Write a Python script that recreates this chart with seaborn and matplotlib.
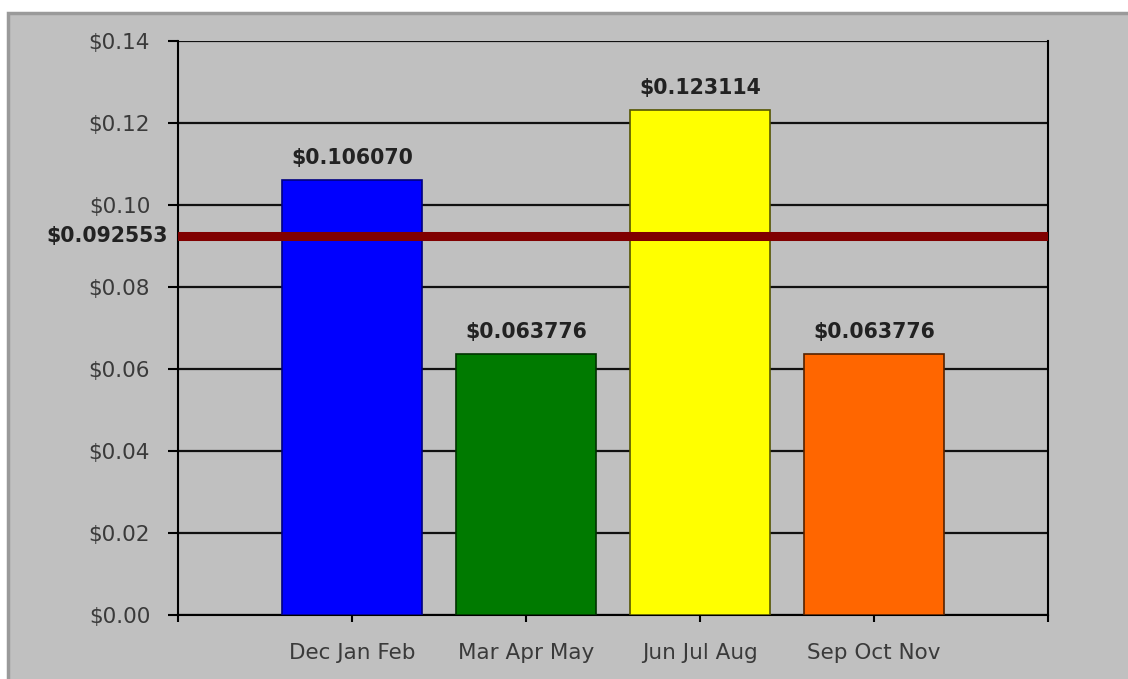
import matplotlib
matplotlib.use("Agg")
import matplotlib.pyplot as plt
import seaborn as sns
import pandas as pd
from matplotlib.patches import Rectangle

categories = ["Dec Jan Feb", "Mar Apr May", "Jun Jul Aug", "Sep Oct Nov"]
values = [0.106070, 0.063776, 0.123114, 0.063776]
colors = ["#0000ff", "#007a00", "#ffff00", "#ff6600"]
edge_colors = ["#000080", "#003300", "#555500", "#552200"]
average = 0.092553
y_ticks = [0.00, 0.02, 0.04, 0.06, 0.08, 0.10, 0.12, 0.14]

sns.set_theme(style="white")
plt.rcParams["font.family"] = ["DejaVu Sans"]

W, H = 1128, 679
fig = plt.figure(figsize=(W / 100, H / 100), dpi=100)
fig.patch.set_facecolor("white")
frame = Rectangle((8 / W, -0.05), 1.1, (H - 13) / H + 0.05,
                  transform=fig.transFigure, facecolor="#c0c0c0",
                  edgecolor="#9a9a9a", linewidth=2.5, zorder=-5)
fig.patches.append(frame)

ax = fig.add_axes([178 / W, (H - 615) / H, 870 / W, 574 / H])
ax.set_zorder(2)
ax.set_facecolor("#c0c0c0")

df = pd.DataFrame({"season": categories, "cost": values})
sns.barplot(data=df, x="season", y="cost", hue="season", palette=colors,
            width=0.8, legend=False, ax=ax, zorder=3, saturation=1)
for patch, ec in zip(ax.patches, edge_colors):
    patch.set_edgecolor(ec)
    patch.set_linewidth(1.2)

ax.set_xlim(-1, 4)
ax.set_ylim(0, 0.14)
ax.set_xticks([-1, 0, 1, 2, 3, 4])
ax.set_xticklabels([""] + categories + [""])
ax.set_yticks(y_ticks)
ax.set_yticklabels([f"${t:.2f}" for t in y_ticks])
ax.set_xlabel("")
ax.set_ylabel("")

ax.tick_params(axis="both", which="both", direction="out", colors="black",
               labelcolor="#3a3a3a", labelsize=15.5, left=True, bottom=True)
ax.tick_params(axis="y", length=7, width=1.5, pad=13)
ax.tick_params(axis="x", length=5, width=1.5, pad=15)

for y in y_ticks:
    ax.axhline(y, color="#111111", linewidth=1.6, zorder=1)

for side in ["left", "right", "bottom"]:
    ax.spines[side].set_visible(True)
    ax.spines[side].set_color("black")
    ax.spines[side].set_linewidth(1.5)
ax.spines["top"].set_visible(False)

ax.axhline(average, color="#800000", linewidth=6.5, zorder=5)
ax.text(-10 / 870, average, f"${average:.6f}", transform=ax.get_yaxis_transform(),
        ha="right", va="center", fontsize=14.8, fontweight="bold", color="#222222")

for i, v in enumerate(values):
    ax.text(i, v + 0.0039, f"${v:.6f}", ha="center", va="baseline",
            fontsize=14.8, fontweight="bold", color="#222222", zorder=6)

fig.savefig("out.png", dpi=100, facecolor=fig.get_facecolor())
